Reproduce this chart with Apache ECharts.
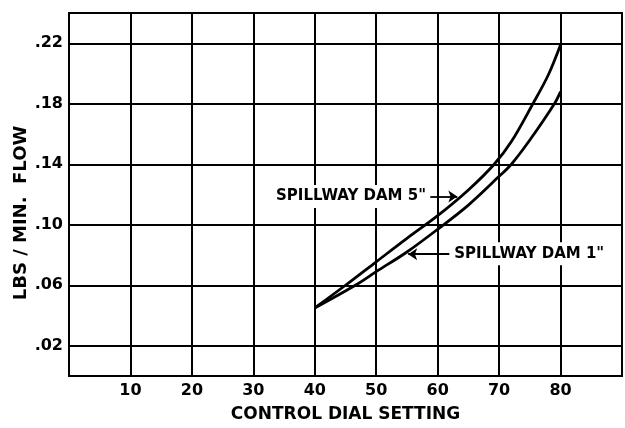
<!DOCTYPE html>
<html>
<head>
<meta charset="utf-8">
<script src="https://cdn.jsdelivr.net/npm/echarts@6/dist/echarts.min.js"></script>
<style>
  html, body { margin: 0; padding: 0; background: #fff; }
  #chart { width: 625px; height: 428px; }
</style>
</head>
<body>
<div id="chart"></div>
<script>
// dial setting / lbs per min
var dial5 = [40, 45, 50, 55, 60, 65, 69.2, 72, 75.5, 78, 80];
var flow5 = [0.045, 0.060, 0.0755, 0.091, 0.106, 0.123, 0.140, 0.155, 0.180, 0.199, 0.219];
var dial1 = [40, 46.6, 50, 55, 60, 65, 70, 72, 75, 79, 80];
var flow1 = [0.045, 0.060, 0.069, 0.082, 0.097, 0.113, 0.132, 0.140, 0.156, 0.180, 0.188];
var yTicks = [0.02, 0.06, 0.10, 0.14, 0.18, 0.22];

var font = 'DejaVu Sans';

function pairs(xs, ys) {
    return xs.map(function (x, i) { return [x, ys[i]]; });
}

// 曲线旁的标注文字
function note(text, x, y) {
    return {
        coord: [x, y],
        symbol: 'rect',
        symbolSize: 0,
        label: {
            show: true,
            position: 'inside',
            formatter: text,
            color: '#000',
            fontFamily: font,
            fontWeight: 'bold',
            fontSize: 15,
            backgroundColor: '#fff',
            padding: [4, 3]
        }
    };
}

function arrow(x0, y0, x1, y1) {
    return [{ coord: [x0, y0] }, { coord: [x1, y1] }];
}

var chart = echarts.init(document.getElementById('chart'));
var option = {
    animation: false,
    grid: {
        left: 69, right: 3, top: 13, bottom: 48,
        show: true,
        borderColor: '#000',
        borderWidth: 2
    },
    xAxis: {
        type: 'value',
        min: 0, max: 90, interval: 10,
        name: 'CONTROL DIAL SETTING',
        nameLocation: 'middle',
        nameGap: 30,
        nameTextStyle: { color: '#000', fontFamily: font, fontWeight: 'bold', fontSize: 17 },
        axisLine: { lineStyle: { color: '#000', width: 2 } },
        axisTick: { show: false },
        splitLine: { lineStyle: { color: '#000', width: 2 } },
        axisLabel: {
            color: '#000', fontFamily: font, fontWeight: 'bold', fontSize: 16, margin: 7,
            formatter: function (v) { return (v === 0 || v === 90) ? '' : v; }
        }
    },
    yAxis: {
        type: 'value',
        min: 0, max: 0.24,
        axisLine: { show: true, lineStyle: { color: '#000', width: 2 } },
        axisTick: { show: false, customValues: yTicks },
        splitLine: { lineStyle: { color: '#000', width: 2 } },
        axisLabel: {
            customValues: yTicks,
            color: '#000', fontFamily: font, fontWeight: 'bold', fontSize: 16, margin: 6,
            formatter: function (v) { return v.toFixed(2).replace(/^0/, ''); }
        }
    },
    graphic: [{
        type: 'text',
        x: 21, y: 213,
        rotation: Math.PI / 2,
        style: {
            text: 'LBS / MIN.  FLOW',
            fill: '#000',
            font: 'bold 18px "DejaVu Sans"',
            textAlign: 'center',
            textVerticalAlign: 'middle'
        }
    }],
    series: [{
        name: 'SPILLWAY DAM 5"',
        type: 'line',
        smooth: 0.35,
        symbol: 'none',
        lineStyle: { color: '#000', width: 2.8 },
        data: pairs(dial5, flow5),
        markPoint: { data: [note('SPILLWAY DAM 5"', 45.9, 0.1187)] },
        markLine: {
            silent: true,
            symbol: ['none', 'arrow'],
            symbolSize: 9,
            label: { show: false },
            lineStyle: { color: '#000', width: 1.8, type: 'solid' },
            data: [arrow(58.8, 0.1187, 63.2, 0.1187)]
        }
    }, {
        name: 'SPILLWAY DAM 1"',
        type: 'line',
        smooth: 0.35,
        symbol: 'none',
        lineStyle: { color: '#000', width: 2.8 },
        data: pairs(dial1, flow1),
        markPoint: { data: [note('SPILLWAY DAM 1"', 74.9, 0.0808)] },
        markLine: {
            silent: true,
            symbol: ['none', 'arrow'],
            symbolSize: 9,
            label: { show: false },
            lineStyle: { color: '#000', width: 1.8, type: 'solid' },
            data: [arrow(61.9, 0.0805, 55.2, 0.0805)]
        }
    }]
};
chart.setOption(option);
</script>
</body>
</html>
